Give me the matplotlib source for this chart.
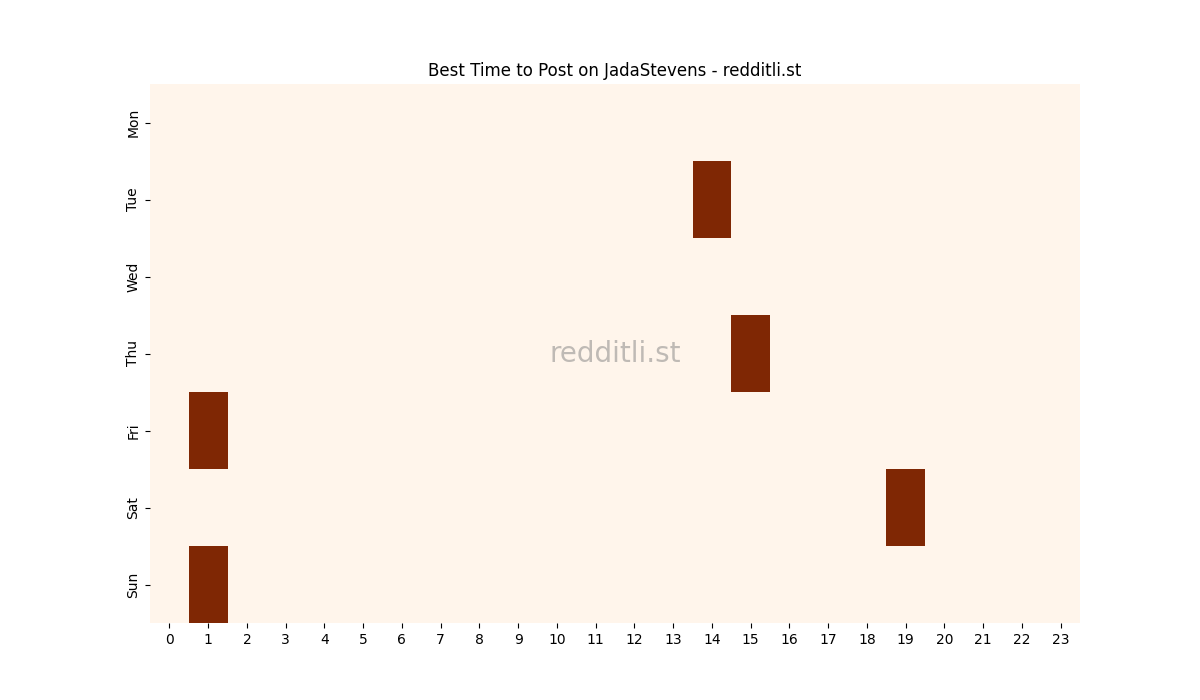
import matplotlib
matplotlib.use("Agg")
import matplotlib.pyplot as plt
import seaborn as sns
import numpy as np

days = ["Mon", "Tue", "Wed", "Thu", "Fri", "Sat", "Sun"]
hours = list(range(24))
hot_days = ["Tue", "Thu", "Fri", "Sat", "Sun"]
hot_hours = [14, 15, 1, 19, 1]
hot_values = [1, 1, 1, 1, 1]

data = np.zeros((len(days), len(hours)))
for d, h, v in zip(hot_days, hot_hours, hot_values):
    data[days.index(d), h] = v

fig = plt.figure(figsize=(12, 7), dpi=100)
ax = fig.add_subplot(111)
sns.heatmap(data, cmap="Oranges", cbar=False, ax=ax,
            xticklabels=hours, yticklabels=days)
ax.set_title("Best Time to Post on JadaStevens - redditli.st")
ax.text(0.5, 0.5, "redditli.st", transform=ax.transAxes, ha="center", va="center",
        fontsize=20, color="gray", alpha=0.5)
fig.savefig("out.png", dpi=100)
